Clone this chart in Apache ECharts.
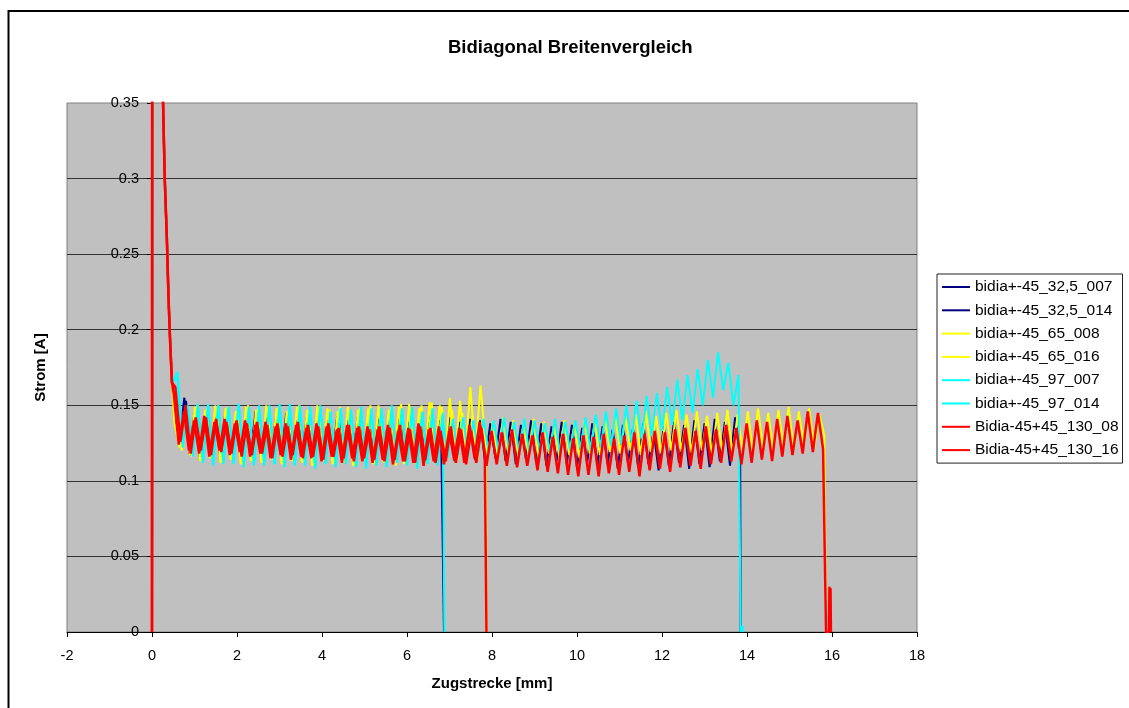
<!DOCTYPE html>
<html>
<head>
<meta charset="utf-8">
<title>Bidiagonal Breitenvergleich</title>
<script src="https://cdn.jsdelivr.net/npm/echarts@6/dist/echarts.min.js"></script>
<style>
  html, body { margin: 0; padding: 0; background: #fff; }
  #chart { width: 1129px; height: 708px; }
</style>
</head>
<body>
<div id="chart"></div>
<script>
// Tick labels of the axes
const xTicks = [-2, 0, 2, 4, 6, 8, 10, 12, 14, 16, 18];
const yTicks = [0, 0.05, 0.1, 0.15, 0.2, 0.25, 0.3, 0.35];

// Series names (legend order)
const seriesNames = [
  'bidia+-45_32,5_007', 'bidia+-45_32,5_014',
  'bidia+-45_65_008', 'bidia+-45_65_016',
  'bidia+-45_97_007', 'bidia+-45_97_014',
  'Bidia-45+45_130_08', 'Bidia-45+45_130_16'
];

// Run-in at the start of every test: [Zugstrecke mm, Strom A]
const runIn = [[0, 0], [0.01, 0.9], [0.21, 0.41], [0.26, 0.35], [0.3, 0.3], [0.35, 0.26], [0.39, 0.22], [0.43, 0.19], [0.47, 0.165]];

// Sampled current in mA, one sample every 0.12 mm from the given start
const STEP_MM = 0.12;

const db007Start = 0.56;
const db007 = [148,122,153,117,144,119,142,116,145,118,141,115,143,117,140,114,144,118,142,116,
  139,115,143,118,141,114,144,117,140,115,142,113,145,116,141,114,143,117,139,113,
  142,116,140,114,143,117,141,115,139,113,142,116,138];

const db014Start = 0.52;
const db014 = [150,124,155,118,145,116,143,119,141,117,144,118,140,116,142,119,146,117,141,118,
  143,116,145,119,140,117,142,115,139,118,141,116,143,117,140,115,142,118,139,116,
  141,117,140,115,142,118,139,116,141,114,143,117,140,115,142,113,139,116,141,114,
  140,112,138,115,141,113,139,111,137,114,140,112,138,110,136,113,139,111,137,109,
  135,112,138,110,136,111,134,108,137,112,135,109,138,111,133,107,136,110,139,112,
  137,108,140,111,138,109,141,113,139,110,142,114];

const y008Start = 0.53;
const y008 = [138,122,146,117,149,113,147,115,150,112,148,114,146,111,149,113,147,112,150,114,
  148,111,146,113,149,112,147,110,150,113,148,111,146,112,149,110,147,113,148,111,
  150,112,147,114,149,111,151,113,148,112,152,115,150,113,155,116,153,114,162,118,163,125];

const y016Start = 0.58;
const y016 = [140,120,147,116,150,113,148,115,146,112,149,114,147,111,150,113,148,112,146,114,
  149,111,147,113,150,112,146,110,148,113,147,111,149,112,146,110,148,113,150,111,
  147,112,149,110,151,113,148,111,150,114,152,112,149,115,147,113,145,116,143,114,
  141,117,139,115,142,118,140,116,138,117,141,115,139,118,137,116,140,117,138,115,
  140,118,139,117,141,119,143,118,142,120,144,117,146,119,143,118,145,120,147,119,
  144,118,146,120,143,117,145,119,147,118,144,120,146,119,148,121,145,120,147,122,
  149,121,146,123,148,122,144,130];

const c007Start = 0.6;
const c007 = [168,125,148,116,151,112,149,110,150,113,148,111,151,109,149,112,147,110,150,111,
  148,109,151,112,147,110,149,108,150,111,146,109,148,112,147,110,149,108,146,111,
  148,109,150,112,147,110,149,108,146,111,148,110,145];

const c014Start = 0.6;
const c014 = [172,122,150,118,148,112,151,114,150,111,149,113,151,112,148,110,150,113,149,111,
  151,112,148,110,150,113,147,109,149,112,146,110,148,111,147,109,146,111,148,110,
  147,110,146,112,148,111,147,113,145,112,144,114,143,115,141,117,142,116,140,118,
  141,119,140,118,142,120,139,119,141,118,140,120,138,119,141,118,139,120,140,121,
  142,120,144,122,146,123,148,124,150,126,153,128,156,130,158,133,162,137,167,140,
  170,145,174,150,180,155,185,160,178,150,170];

const r08Start = 0.51;
const r08 = [158,124,146,120,140,118,143,116,139,120,141,117,138,119,140,116,137,118,139,115,
  136,117,138,114,137,116,135,115,138,113,136,116,134,112,137,115,135,113,136,112,
  134,114,137,111,133,113,135,112,138,110,134,113,136,111,133,114,135,112,137,115,139,118];

const r16Start = 0.55;
const r16 = [162,126,150,118,142,120,142,117,141,119,139,118,140,116,138,117,139,118,137,115,
  138,116,136,117,139,115,137,116,136,114,138,116,135,115,137,113,136,115,134,114,
  136,113,135,114,137,113,134,112,136,114,135,112,133,113,136,112,134,111,133,112,
  135,110,133,111,132,110,134,109,131,110,130,107,132,106,129,105,131,104,128,103,
  130,104,129,103,131,105,128,104,130,106,132,103,131,107,133,108,132,106,134,109,
  135,110,133,108,136,111,134,112,137,113,135,111,138,112,140,114,139,113,141,116,
  143,117,140,118,146,119,145,121];

// End of each test: the current drops to zero (plus the short spike after 130_16)
const db007End = [[6.87, 0]];
const db014End = [[13.85, 0]];
const y008End = [[7.88, 0]];
const y016End = [[15.86, 0]];
const c007End = [[6.88, 0]];
const c014End = [[13.85, 0], [13.89, 0.004], [13.91, 0]];
const r08End = [[7.87, 0]];
const r16End = [[15.86, 0], [15.93, 0], [15.94, 0.03], [15.955, 0.004], [15.965, 0.029], [15.975, 0]];

const NAVY = '#000080', YELLOW = '#FFFF00', CYAN = '#00FFFF', RED = '#FF0000';
const FONT = "'Liberation Sans', Arial, sans-serif";

// Plot box in pixels; the value axis is drawn where Zugstrecke = 0
const PLOT = { left: 67, right: 212, top: 103, bottom: 76 };
const plotWidth = 1129 - PLOT.left - PLOT.right;
const xMin = xTicks[0], xMax = xTicks[xTicks.length - 1];
const yAxisShift = -plotWidth * (0 - xMin) / (xMax - xMin);

function buildRun(start, samples, tail) {
  const pts = runIn.slice();
  samples.forEach((mA, i) => pts.push([+(start + i * STEP_MM).toFixed(3), mA / 1000]));
  return pts.concat(tail);
}

const runs = [
  { data: buildRun(db007Start, db007, db007End), color: NAVY, width: 2 },
  { data: buildRun(db014Start, db014, db014End), color: NAVY, width: 2 },
  { data: buildRun(y008Start, y008, y008End), color: YELLOW, width: 2 },
  { data: buildRun(y016Start, y016, y016End), color: YELLOW, width: 2 },
  { data: buildRun(c007Start, c007, c007End), color: CYAN, width: 2 },
  { data: buildRun(c014Start, c014, c014End), color: CYAN, width: 2 },
  { data: buildRun(r08Start, r08, r08End), color: RED, width: 2.5 },
  { data: buildRun(r16Start, r16, r16End), color: RED, width: 2.5 }
];

const chart = echarts.init(document.getElementById('chart'), null, { renderer: 'canvas' });

chart.setOption({
  animation: false,
  backgroundColor: '#ffffff',
  textStyle: { fontFamily: FONT },
  title: {
    text: 'Bidiagonal Breitenvergleich',
    left: 448,
    top: 38,
    padding: 0,
    textStyle: { fontFamily: FONT, fontSize: 18.5, fontWeight: 'bold', color: '#000' }
  },
  graphic: [{
    type: 'rect',
    silent: true,
    shape: { x: 8.5, y: 11, width: 1400, height: 900 },
    style: { fill: 'none', stroke: '#000', lineWidth: 2 },
    z: 100
  }],
  legend: {
    orient: 'vertical',
    left: 937,
    top: 274,
    padding: [5, 4, 5, 5],
    itemWidth: 28,
    itemHeight: 2,
    itemGap: 7.3,
    icon: 'rect',
    backgroundColor: '#ffffff',
    borderColor: '#222',
    borderWidth: 1,
    textStyle: { fontFamily: FONT, fontSize: 15.5, color: '#000' },
    data: seriesNames
  },
  grid: {
    left: PLOT.left, right: PLOT.right, top: PLOT.top, bottom: PLOT.bottom,
    containLabel: false,
    outerBoundsMode: 'none',
    show: true,
    backgroundColor: '#C0C0C0',
    borderColor: '#808080',
    borderWidth: 1
  },
  xAxis: {
    type: 'value',
    min: xMin,
    max: xMax,
    interval: xTicks[1] - xTicks[0],
    name: 'Zugstrecke [mm]',
    nameLocation: 'middle',
    nameGap: 44,
    nameTextStyle: { fontFamily: FONT, fontSize: 15, fontWeight: 'bold', color: '#000' },
    axisLine: { onZero: false, lineStyle: { color: '#000', width: 1 } },
    axisTick: { show: true, inside: false, length: 5, lineStyle: { color: '#000' } },
    axisLabel: { margin: 16, fontFamily: FONT, fontSize: 14.5, color: '#000' },
    splitLine: { show: false }
  },
  yAxis: {
    type: 'value',
    min: yTicks[0],
    max: yTicks[yTicks.length - 1],
    interval: yTicks[1] - yTicks[0],
    offset: yAxisShift,
    name: 'Strom [A]',
    nameLocation: 'middle',
    nameGap: 104,
    nameRotate: 90,
    nameTextStyle: { fontFamily: FONT, fontSize: 15, fontWeight: 'bold', color: '#000' },
    axisLine: { show: true, onZero: false, lineStyle: { color: '#808080', width: 1 } },
    axisTick: { show: true, inside: false, length: 5, lineStyle: { color: '#000' } },
    axisLabel: {
      margin: 13, fontFamily: FONT, fontSize: 14.5, color: '#000',
      formatter: v => String(+v.toFixed(2))
    },
    splitLine: { show: true, showMinLine: false, showMaxLine: false, lineStyle: { color: '#333', width: 1 } }
  },
  series: runs.map((r, i) => ({
    name: seriesNames[i],
    type: 'line',
    data: r.data,
    showSymbol: false,
    symbol: 'none',
    clip: true,
    lineStyle: { color: r.color, width: r.width },
    itemStyle: { color: r.color },
    emphasis: { disabled: true }
  }))
});
</script>
</body>
</html>
